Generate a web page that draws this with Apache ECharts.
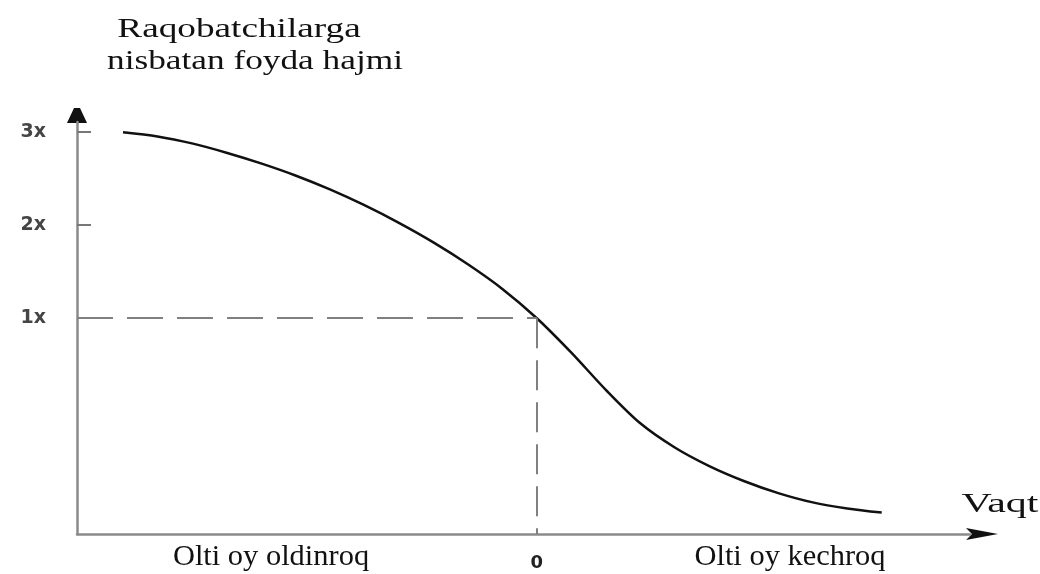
<!DOCTYPE html>
<html>
<head>
<meta charset="utf-8">
<script src="https://cdn.jsdelivr.net/npm/echarts@6/dist/echarts.min.js"></script>
<style>
  html, body { margin: 0; padding: 0; background: #fff; }
  #chart { width: 1040px; height: 574px; }
</style>
</head>
<body>
<div id="chart"></div>
<script>
// vaqt (oy), 0 = raqobatchilar bilan bir vaqtda
var months = [-6, -5.5, -5, -4.5, -4, -3.5, -3, -2.5, -2, -1.5, -1, -0.5, 0, 0.5, 1, 1.5, 2, 2.5, 3, 3.5, 4, 4.5, 5];
// foyda hajmi (x marta)
var profit = [3.0, 2.955, 2.88, 2.78, 2.665, 2.535, 2.385, 2.215, 2.025, 1.815, 1.58, 1.315, 1.0, 0.63, 0.23, -0.13, -0.39, -0.59, -0.75, -0.88, -0.98, -1.045, -1.09];
var yTicks = [1, 2, 3];
var xTicks = [0];
var refPoint = [0, 1];

var X_MIN = -6.667, X_MAX = 6.28;
var Y_MIN = -1.32, Y_MAX = 3.11;

var SERIF = '"Liberation Serif", "Times New Roman", serif';

var CHART = {
    myChart: null,
    init: function(){
        var _this = this;
        _this.myChart = echarts.init(document.getElementById('chart'));
        _this.myChart.setOption(_this.build_option());
        _this.add_arrows();
    },
    serif_text: function(txt, x, y, size, sx){
        return {
            type: 'text',
            x: x,
            y: y,
            scaleX: sx,
            style: {
                text: txt,
                font: size + 'px ' + SERIF,
                fill: '#111',
                textAlign: 'center',
                textVerticalAlign: 'middle'
            }
        };
    },
    // qora strelkalar o'q uchlarida (o'q koordinatalaridan hisoblanadi)
    add_arrows: function(){
        var _this = this;
        var xEnd = _this.myChart.convertToPixel({gridIndex: 0}, [X_MAX, Y_MIN]);
        var yEnd = _this.myChart.convertToPixel({gridIndex: 0}, [X_MIN, Y_MAX]);
        var g = _this.build_option().graphic;
        g.push({
            type: 'polygon',
            shape: { points: [[xEnd[0] - 4, xEnd[1] - 6], [xEnd[0] + 28, xEnd[1]], [xEnd[0] - 4, xEnd[1] + 6], [xEnd[0] + 2, xEnd[1]]] },
            style: { fill: '#111' }
        });
        g.push({
            type: 'polygon',
            shape: { points: [[yEnd[0] - 10, yEnd[1] + 1], [yEnd[0] - 3, yEnd[1] - 14], [yEnd[0] + 3, yEnd[1] - 14], [yEnd[0] + 10, yEnd[1] + 1]] },
            style: { fill: '#111' }
        });
        _this.myChart.setOption({ graphic: g });
    },
    build_option: function(){
        var _this = this;
        var points = [];
        for (var i = 0; i < months.length; i++) points.push([months[i], profit[i]]);

        return {
            animation: false,
            grid: { left: 77, right: 70, top: 122, bottom: 40, containLabel: false, outerBoundsMode: 'none' },
            xAxis: {
                type: 'value',
                min: X_MIN,
                max: X_MAX,
                splitLine: { show: false },
                axisTick: { show: false },
                axisLine: {
                    onZero: false,
                    lineStyle: { color: '#8a8a8a', width: 2.5 }
                },
                axisLabel: {
                    customValues: xTicks,
                    margin: 20,
                    color: '#222',
                    fontFamily: '"DejaVu Sans", sans-serif',
                    fontWeight: 'bold',
                    fontSize: 18
                }
            },
            yAxis: {
                type: 'value',
                min: Y_MIN,
                max: Y_MAX,
                splitLine: { show: false },
                axisLine: {
                    onZero: false,
                    lineStyle: { color: '#8a8a8a', width: 2.5 }
                },
                axisTick: {
                    customValues: yTicks,
                    inside: true,
                    length: 14,
                    lineStyle: { color: '#777', width: 2 }
                },
                axisLabel: {
                    customValues: yTicks,
                    margin: 31,
                    color: '#454545',
                    fontFamily: '"DejaVu Sans", sans-serif',
                    fontWeight: 'bold',
                    fontSize: 19,
                    formatter: function(v){ return v + 'x'; }
                }
            },
            series: [{
                type: 'line',
                data: points,
                smooth: 0.3,
                showSymbol: false,
                lineStyle: { color: '#111', width: 2.5 },
                markLine: {
                    silent: true,
                    symbol: ['none', 'none'],
                    label: { show: false },
                    data: [
                        [{ coord: [X_MIN, refPoint[1]], lineStyle: { type: [36, 14], color: '#808080', width: 2 } },
                         { coord: [refPoint[0], refPoint[1]] }],
                        [{ coord: [refPoint[0], refPoint[1]], lineStyle: { type: [30, 12], color: '#808080', width: 2 } },
                         { coord: [refPoint[0], Y_MIN] }]
                    ]
                }
            }],
            graphic: [
                _this.serif_text('Raqobatchilarga', 239, 30, 28, 1.33),
                _this.serif_text('nisbatan foyda hajmi', 255, 62, 28, 1.26),
                _this.serif_text('Olti oy oldinroq', 271, 557, 29, 1.05),
                _this.serif_text('Olti oy kechroq', 790, 557, 29, 1.05),
                _this.serif_text('Vaqt', 1000, 505, 28, 1.5)
            ]
        };
    }
};

CHART.init();
</script>
</body>
</html>
